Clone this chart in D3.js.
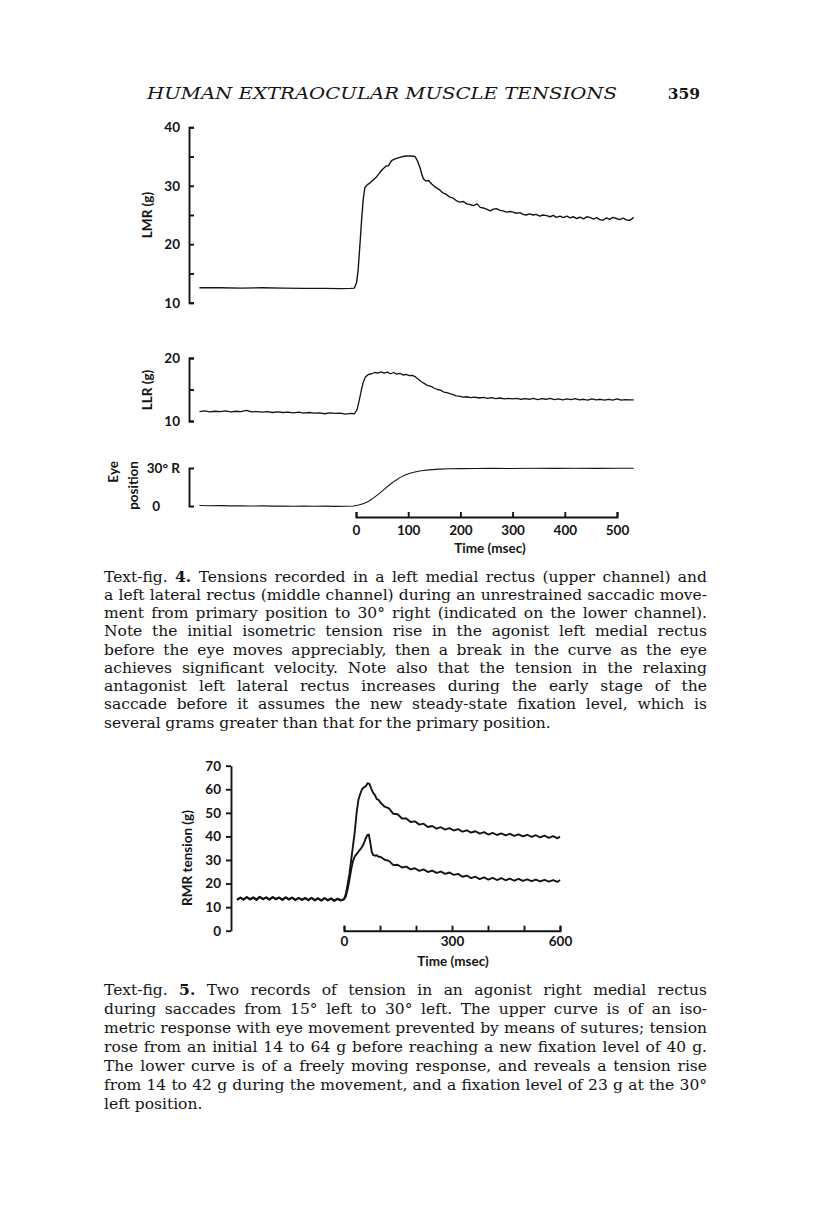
<!DOCTYPE html>
<html><head><meta charset="utf-8">
<script src="https://cdn.jsdelivr.net/npm/d3@7"></script>
<style>html,body{margin:0;padding:0;background:#fff;} svg{display:block;}</style>
</head><body>
<svg id="page" width="816" height="1221"></svg>
<script>
// ---------------- DATA ----------------
const headerTitle = "HUMAN EXTRAOCULAR MUSCLE TENSIONS";
const pageNumber = "359";

// Text-fig. 4 — time in msec, tension in g, eye position in degrees
const fig4TimeTicks = [0, 100, 200, 300, 400, 500];
const lmrTicks = [10, 15, 20, 25, 30, 35, 40];
const lmrTickLabels = [10, 20, 30, 40];
const llrTicks = [10, 15, 20];
const llrTickLabels = [10, 20];
const eyeTicks = [0, 30];
const eyeTickLabels = ["0", "30° R"];

const lmrTrace = [[-300,12.55],[-260,12.55],[-220,12.5],[-180,12.55],[-140,12.5],[-100,12.45],[-60,12.45],[-30,12.4],[-10,12.45],[-3,12.5],
[1,13.4],[4,15.5],[8,20.5],[11,24.5],[14,27.8],[17,29.7],[22,30.2],[27,30.5],[33,31.0],[40,31.6],
[46,32.3],[52,32.9],[58,33.4],[62,33.4],[68,34.3],[75,34.6],[84,34.85],[92,35.05],[97,35.1],[105,35.1],
[113,35.0],[118,34.2],[123,33.0],[126,32.0],[129,31.2],[134,30.8],[139,30.9],[145,30.3],[150,29.9],[155,29.6],
[160,29.3],[166,28.8],[172,28.6],[179,28.1],[186,27.9],[193,27.4],[199,27.2],[206,27.3],[212,26.9],[218,26.8],
[225,26.6],[232,26.9],[238,26.3],[244,26.2],[250,26.0],[257,25.7],[263,26.0],[269,26.1],[276,25.8],[282,25.7],
[288,25.5],[295,25.6],[301,25.5],[307,25.3],[314,25.4],[320,25.1],[326,25.0],[333,25.2],[339,25.0],[345,25.1],
[352,24.8],[358,25.0],[365,24.9],[372,24.7],[378,24.95],[384,24.6],[391,24.8],[397,24.55],[404,24.8],[410,24.5],
[416,24.7],[423,24.4],[429,24.65],[436,24.35],[442,24.7],[448,24.6],[455,24.3],[461,24.55],[467,24.2],[473,24.1],
[480,24.5],[486,24.25],[492,24.6],[499,24.4],[505,24.2],[512,24.45],[518,24.15],[525,24.1],[532,24.6]];

const llrTrace = [[-300,11.5],[-290,11.6],[-280,11.45],[-270,11.55],[-260,11.5],[-250,11.6],[-240,11.45],[-230,11.55],[-220,11.5],[-210,11.7],
[-200,11.45],[-190,11.5],[-180,11.4],[-170,11.5],[-160,11.35],[-150,11.45],[-140,11.35],[-130,11.4],[-120,11.3],[-110,11.4],
[-100,11.25],[-90,11.35],[-80,11.25],[-70,11.3],[-60,11.15],[-50,11.3],[-40,11.2],[-30,11.25],[-20,11.1],[-10,11.2],
[-3,11.15],[2,11.8],[6,13.2],[10,14.8],[14,16.2],[18,17.0],[24,17.4],[30,17.5],[36,17.7],[42,17.6],
[48,17.8],[54,17.6],[60,17.75],[66,17.5],[72,17.7],[78,17.45],[84,17.55],[90,17.3],[96,17.4],[102,17.2],
[108,17.25],[114,17.0],[120,16.6],[126,16.2],[132,15.9],[138,15.6],[144,15.5],[150,15.2],[156,15.0],[162,14.9],
[168,14.6],[174,14.5],[180,14.35],[186,14.2],[192,14.0],[198,13.95],[205,13.8],[212,13.85],[220,13.7],[228,13.8],
[236,13.65],[244,13.75],[252,13.6],[260,13.7],[268,13.55],[276,13.65],[284,13.5],[292,13.6],[300,13.5],[308,13.6],
[316,13.45],[324,13.55],[332,13.45],[340,13.6],[348,13.4],[356,13.55],[364,13.45],[372,13.6],[380,13.4],[388,13.5],
[396,13.35],[404,13.5],[412,13.4],[420,13.55],[428,13.35],[436,13.45],[444,13.3],[452,13.5],[460,13.35],[468,13.45],
[476,13.3],[484,13.45],[492,13.3],[500,13.5],[508,13.3],[516,13.4],[524,13.35],[532,13.35]];

const eyeTrace = [[-300,0.4],[-280,0.2],[-260,0.3],[-240,0.1],[-220,0.2],[-200,0.0],[-180,0.1],[-160,-0.1],[-140,0.0],[-120,-0.2],
[-100,-0.1],[-80,-0.2],[-60,-0.1],[-40,-0.3],[-20,-0.2],[-5,0.0],[5,0.8],[15,2.0],[25,4.0],[35,6.8],
[45,10.0],[55,13.5],[65,17.0],[75,20.0],[85,22.6],[95,24.6],[105,26.0],[115,27.0],[125,27.8],[140,28.5],
[160,29.1],[180,29.4],[200,29.5],[230,29.6],[260,29.7],[300,29.6],[340,29.8],[380,29.7],[420,29.8],[460,29.7],
[500,29.8],[532,29.75]];

// Text-fig. 5 — RMR tension (g) vs time (msec)
const fig5TimeTicks = [0, 100, 200, 300, 400, 500, 600];
const fig5TimeLabels = [0, 300, 600];
const rmrTicks = [0, 10, 20, 30, 40, 50, 60, 70];

const rmrUpper = [[-297,13.0],[-288,14.0],[-279,13.1],[-270,14.2],[-261,13.2],[-252,14.0],[-243,13.0],[-234,14.3],[-225,13.3],[-216,14.1],
[-207,13.1],[-198,14.2],[-189,13.3],[-180,14.0],[-171,13.0],[-162,14.1],[-153,13.2],[-144,14.0],[-135,12.9],[-126,13.9],
[-117,13.0],[-108,13.8],[-99,12.9],[-90,13.9],[-81,12.8],[-72,13.7],[-63,12.7],[-54,13.8],[-45,12.8],[-36,13.6],
[-27,12.6],[-18,13.5],[-9,12.8],[0,13.3],
[5,15.5],[10,19.5],[15,24],[20,30],[25,36],[30,42],[35,50],[40,55.5],[45,58],[50,60],
[55,60.8],[60,61.2],[66,62.6],[71,62.2],[76,60.2],[81,58.5],[86,57.5],[91,55.8],[96,55.5],
[101,54.4],[113,52.6],[125,51.9],[137,49.6],[149,49.4],[161,47.6],[173,47.6],[185,46.1],[197,46.4],[209,45.0],
[221,45.4],[233,44.0],[245,44.4],[257,43.3],[269,43.9],[281,42.9],[293,43.5],[305,42.5],[317,43.1],[329,42.0],
[341,42.6],[353,41.6],[365,42.2],[377,41.2],[389,41.8],[401,40.8],[413,41.5],[425,40.6],[437,41.3],[449,40.4],
[461,41.1],[473,40.2],[485,40.9],[497,40.0],[509,40.7],[521,39.8],[533,40.5],[545,39.6],[557,40.3],[569,39.4],
[581,40.1],[593,39.2],[600,39.9]];

const rmrLower = [[-297,13.2],[-288,14.1],[-279,13.3],[-270,14.3],[-261,13.4],[-252,14.2],[-243,13.2],[-234,14.4],[-225,13.5],[-216,14.2],
[-207,13.3],[-198,14.3],[-189,13.5],[-180,14.1],[-171,13.2],[-162,14.2],[-153,13.4],[-144,14.1],[-135,13.1],[-126,14.0],
[-117,13.2],[-108,13.9],[-99,13.1],[-90,14.0],[-81,13.0],[-72,13.8],[-63,12.9],[-54,13.9],[-45,13.0],[-36,13.7],
[-27,12.8],[-18,13.6],[-9,13.0],[0,13.4],
[5,14.5],[10,17.5],[15,21.5],[20,26],[25,29.5],[30,31.5],[35,32.5],[40,33.5],[45,34.5],[50,35.5],
[55,37],[60,39],[65,40.6],[69,40.8],[73,37.5],[77,33.5],[81,32.2],[86,31.8],[91,32.0],[96,31.3],[101,31.4],
[113,30.1],[125,29.6],[137,27.8],[149,28.0],[161,26.8],[173,27.2],[185,26.0],[197,26.5],[209,25.4],[221,26.0],
[233,24.9],[245,25.5],[257,24.5],[269,25.1],[281,24.1],[293,24.7],[305,23.7],[317,24.1],[329,22.9],[341,23.4],
[353,22.3],[365,22.9],[377,21.9],[389,22.6],[401,21.7],[413,22.4],[425,21.5],[437,22.3],[449,21.4],[461,22.1],
[473,21.2],[485,22.0],[497,21.1],[509,21.8],[521,21.0],[533,21.7],[545,20.9],[557,21.6],[569,20.8],[581,21.5],
[593,20.7],[600,21.5]];

const caption4 = [
"Text-fig. 4. Tensions recorded in a left medial rectus (upper channel) and",
"a left lateral rectus (middle channel) during an unrestrained saccadic move-",
"ment from primary position to 30° right (indicated on the lower channel).",
"Note the initial isometric tension rise in the agonist left medial rectus",
"before the eye moves appreciably, then a break in the curve as the eye",
"achieves significant velocity. Note also that the tension in the relaxing",
"antagonist left lateral rectus increases during the early stage of the",
"saccade before it assumes the new steady-state fixation level, which is",
"several grams greater than that for the primary position."];

const caption5 = [
"Text-fig. 5. Two records of tension in an agonist right medial rectus",
"during saccades from 15° left to 30° left. The upper curve is of an iso-",
"metric response with eye movement prevented by means of sutures; tension",
"rose from an initial 14 to 64 g before reaching a new fixation level of 40 g.",
"The lower curve is of a freely moving response, and reveals a tension rise",
"from 14 to 42 g during the movement, and a fixation level of 23 g at the 30°",
"left position."];

// ---------------- DRAWING ----------------
const svg = d3.select('#page');
svg.append('rect').attr('width', 816).attr('height', 1221).attr('fill', '#fff');
const ink = '#141414';
const sans = 'Lato, "Open Sans", sans-serif';
const serif = '"DejaVu Serif", serif';
const axFont = 13.5;

// running header
svg.append('text').attr('x', 147).attr('y', 99)
  .attr('font-family', serif).attr('font-style', 'italic').attr('font-size', 17)
  .attr('fill', ink).attr('textLength', 470).attr('lengthAdjust', 'spacingAndGlyphs')
  .text(headerTitle);
svg.append('text').attr('x', 700).attr('y', 99).attr('text-anchor', 'end')
  .attr('font-family', serif).attr('font-weight', 'bold').attr('font-size', 15.5)
  .attr('fill', ink).text(pageNumber);

function styleAxis(g, sw) {
  g.select('.domain').attr('stroke', ink).attr('stroke-width', sw).attr('fill', 'none');
  g.selectAll('.tick line').attr('stroke', ink).attr('stroke-width', sw);
  g.selectAll('.tick text').attr('fill', ink).attr('font-family', sans)
    .attr('font-weight', 'bold').attr('font-size', axFont);
  g.attr('font-family', null).attr('font-size', null);
}
function labelAxis(g) {
  g.select('.domain').remove();
  g.selectAll('.tick line').remove();
  g.selectAll('.tick text').attr('fill', ink).attr('font-family', sans)
    .attr('font-weight', 'bold').attr('font-size', axFont);
  g.attr('font-family', null).attr('font-size', null);
}
function plainText(x, y, txt, anchor) {
  return svg.append('text').attr('x', x).attr('y', y).attr('text-anchor', anchor || 'middle')
    .attr('font-family', sans).attr('font-weight', 'bold').attr('font-size', axFont)
    .attr('fill', ink).text(txt);
}
function rotLabel(x, y, txt, anchor) {
  svg.append('text').attr('transform', `translate(${x},${y}) rotate(-90)`)
    .attr('text-anchor', anchor || 'middle').attr('dy', '0.35em')
    .attr('font-family', sans).attr('font-weight', 'bold').attr('font-size', axFont)
    .attr('fill', ink).text(txt);
}

// ---- Text-fig. 4 ----
const axX4 = 189;
const x4 = d3.scaleLinear().domain([0, 500]).range([356, 617]);
const yLMR = d3.scaleLinear().domain([10, 40]).range([302.7, 127.3]);
const yLLR = d3.scaleLinear().domain([10, 20]).range([421, 358]);
const yEye = d3.scaleLinear().domain([0, 30]).range([506, 468]);

// bracket y-axes (ticks point right, labels on the left)
[[yLMR, lmrTicks, lmrTickLabels], [yLLR, llrTicks, llrTickLabels]].forEach(([y, ticks, labs]) => {
  const a = svg.append('g').attr('transform', `translate(${axX4},0)`)
    .call(d3.axisRight(y).tickValues(ticks).tickSize(5).tickSizeOuter(5).tickFormat(''));
  styleAxis(a, 1.9);
  const l = svg.append('g').attr('transform', `translate(${axX4},0)`)
    .call(d3.axisLeft(y).tickValues(labs).tickSize(0).tickPadding(9).tickFormat(d3.format('d')));
  labelAxis(l);
});
const eyeAx = svg.append('g').attr('transform', `translate(${axX4},0)`)
  .call(d3.axisRight(yEye).tickValues([]).tickSizeOuter(5));
styleAxis(eyeAx, 1.9);
plainText(180, yEye(eyeTicks[1]), eyeTickLabels[1], 'end').attr('dy', '0.35em');
plainText(160, yEye(eyeTicks[0]), eyeTickLabels[0], 'end').attr('dy', '0.35em');

rotLabel(147, 215, 'LMR (g)');
rotLabel(147, 390, 'LLR (g)');
rotLabel(113, 461, 'Eye', 'end');
rotLabel(133, 461, 'position', 'end');

// time axis fig 4
const tAx4Y = 517;
const tAx4 = svg.append('g').attr('transform', `translate(0,${tAx4Y})`)
  .call(d3.axisTop(x4).tickValues(fig4TimeTicks).tickSize(5).tickSizeOuter(5).tickFormat(''));
styleAxis(tAx4, 1.9);
const tLab4 = svg.append('g').attr('transform', `translate(0,${tAx4Y})`)
  .call(d3.axisBottom(x4).tickValues(fig4TimeTicks).tickSize(0).tickPadding(8).tickFormat(d3.format('d')));
labelAxis(tLab4);
plainText(490, 553, 'Time (msec)');

// traces fig 4
const tr = (x, y) => d3.line().x(d => x(d[0])).y(d => y(d[1]));
svg.append('path').attr('d', tr(x4, yLMR)(lmrTrace)).attr('fill', 'none').attr('stroke', ink).attr('stroke-width', 1.4).attr('stroke-linejoin', 'round');
svg.append('path').attr('d', tr(x4, yLLR)(llrTrace)).attr('fill', 'none').attr('stroke', ink).attr('stroke-width', 1.3).attr('stroke-linejoin', 'round');
svg.append('path').attr('d', tr(x4, yEye)(eyeTrace)).attr('fill', 'none').attr('stroke', ink).attr('stroke-width', 1.1).attr('stroke-linejoin', 'round');

// ---- Text-fig. 5 ----
const x5 = d3.scaleLinear().domain([0, 600]).range([344, 560]);
const y5 = d3.scaleLinear().domain([0, 70]).range([930.7, 765.7]);
const ax5 = svg.append('g').attr('transform', 'translate(231,0)')
  .call(d3.axisLeft(y5).tickValues(rmrTicks).tickSize(5).tickSizeOuter(0).tickPadding(5).tickFormat(d3.format('d')));
styleAxis(ax5, 1.9);
const tAx5 = svg.append('g').attr('transform', `translate(0,${y5(0)})`)
  .call(d3.axisTop(x5).tickValues(fig5TimeTicks).tickSize(5).tickSizeOuter(5).tickFormat(''));
styleAxis(tAx5, 1.9);
const tLab5 = svg.append('g').attr('transform', `translate(0,${y5(0)})`)
  .call(d3.axisBottom(x5).tickValues(fig5TimeLabels).tickSize(0).tickPadding(6).tickFormat(d3.format('d')));
labelAxis(tLab5);
plainText(453, 966, 'Time (msec)');
rotLabel(187, 858, 'RMR tension (g)');

svg.append('path').attr('d', tr(x5, y5)(rmrUpper)).attr('fill', 'none').attr('stroke', ink).attr('stroke-width', 1.9).attr('stroke-linejoin', 'round');
svg.append('path').attr('d', tr(x5, y5)(rmrLower)).attr('fill', 'none').attr('stroke', ink).attr('stroke-width', 1.9).attr('stroke-linejoin', 'round');

// ---- captions (justified) ----
const capSize = 15.5;
function paragraph(lines, x0, x1, yFirst, lh) {
  const g = svg.append('g').attr('font-family', serif).attr('font-size', capSize).attr('fill', ink);
  lines.forEach((line, i) => {
    const words = line.split(' ');
    const t = g.append('text').attr('y', yFirst + i * lh);
    const spans = words.map((w, j) => t.append('tspan')
      .attr('font-weight', (i === 0 && j === 1) ? 'bold' : null).text(w));
    const widths = spans.map(s => s.node().getComputedTextLength());
    const sum = d3.sum(widths);
    const space = capSize * 0.3;
    const last = i === lines.length - 1;
    let gap = last ? space : (x1 - x0 - sum) / (words.length - 1);
    let scale = 1;
    if (!last && gap < space * 0.5) {
      gap = space * 0.5;
      scale = (x1 - x0 - gap * (words.length - 1)) / sum;
    }
    let x = x0;
    spans.forEach((s, j) => {
      s.attr('x', x);
      if (scale !== 1) s.attr('textLength', widths[j] * scale).attr('lengthAdjust', 'spacingAndGlyphs');
      x += widths[j] * scale + gap;
    });
  });
}
paragraph(caption4, 104, 707, 581.5, 18.25);
paragraph(caption5, 104, 707, 995, 19);
</script>
</body></html>
